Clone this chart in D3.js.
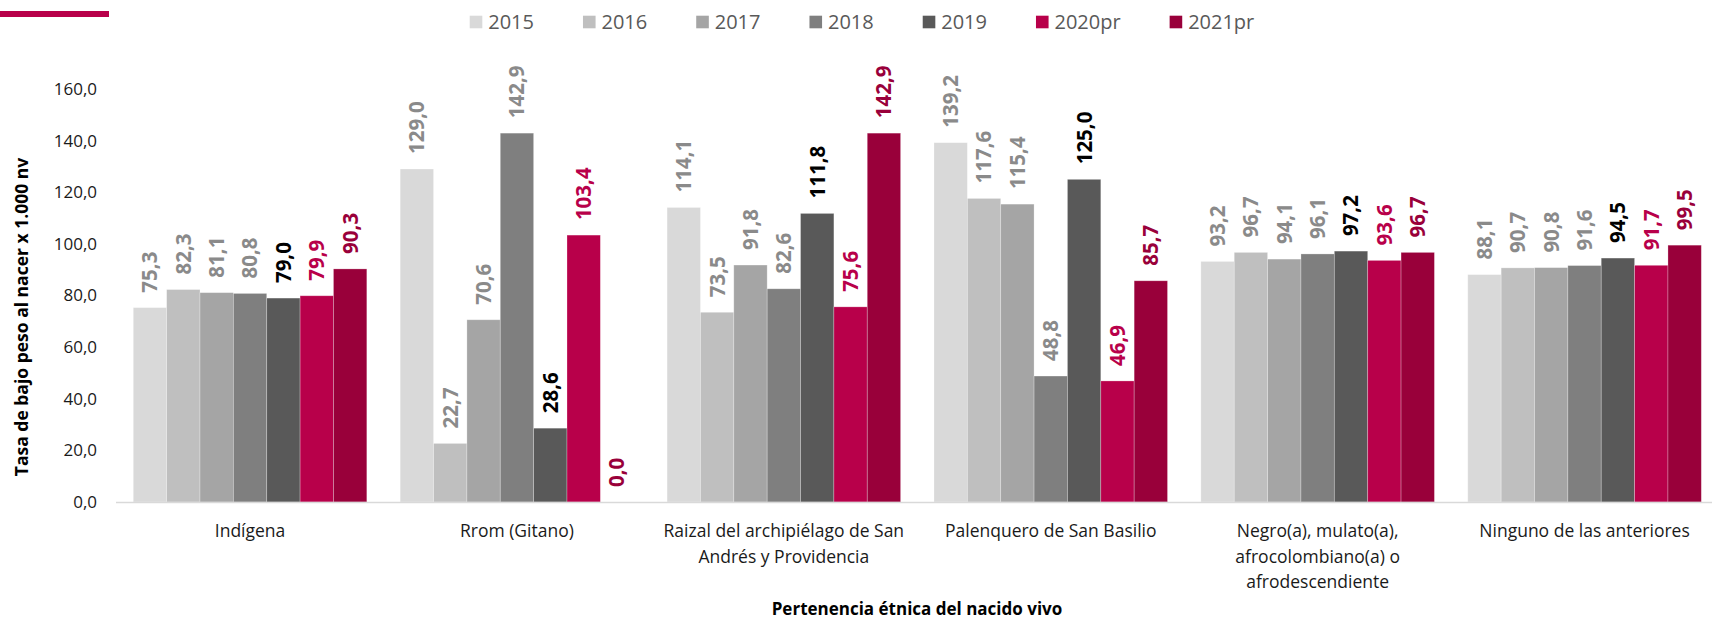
<!DOCTYPE html>
<html>
<head>
<meta charset="utf-8">
<script src="https://cdn.jsdelivr.net/npm/d3@7"></script>
<style>
  html, body { margin: 0; padding: 0; background: #fff; }
  svg { display: block; font-family: "Open Sans", "Noto Sans", sans-serif; }
</style>
</head>
<body>
<svg id="chart" width="1712" height="620"></svg>
<script>
// ---------- data ----------
const categories = [
  "Indígena",
  "Rrom (Gitano)",
  "Raizal del archipiélago de San Andrés y Providencia",
  "Palenquero de San Basilio",
  "Negro(a), mulato(a), afrocolombiano(a) o afrodescendiente",
  "Ninguno de las anteriores"
];
const categoryLines = [
  ["Indígena"],
  ["Rrom (Gitano)"],
  ["Raizal del archipiélago de San", "Andrés y Providencia"],
  ["Palenquero de San Basilio"],
  ["Negro(a), mulato(a),", "afrocolombiano(a) o", "afrodescendiente"],
  ["Ninguno de las anteriores"]
];
const seriesNames = ["2015", "2016", "2017", "2018", "2019", "2020pr", "2021pr"];
const v2015   = [75.3, 129.0, 114.1, 139.2, 93.2, 88.1];
const v2016   = [82.3, 22.7, 73.5, 117.6, 96.7, 90.7];
const v2017   = [81.1, 70.6, 91.8, 115.4, 94.1, 90.8];
const v2018   = [80.8, 142.9, 82.6, 48.8, 96.1, 91.6];
const v2019   = [79.0, 28.6, 111.8, 125.0, 97.2, 94.5];
const v2020pr = [79.9, 103.4, 75.6, 46.9, 93.6, 91.7];
const v2021pr = [90.3, 0.0, 142.9, 85.7, 96.7, 99.5];
const seriesValues = [v2015, v2016, v2017, v2018, v2019, v2020pr, v2021pr];
const yTicks = [0, 20, 40, 60, 80, 100, 120, 140, 160];
const yTitle = "Tasa de bajo peso al nacer x 1.000 nv";
const xTitle = "Pertenencia étnica del nacido vivo";

// ---------- style ----------
const barColors   = ["#d9d9d9", "#bfbfbf", "#a5a5a5", "#7f7f7f", "#595959", "#b8004a", "#99003a"];
const labelColors = ["#8a8a8a", "#8a8a8a", "#8a8a8a", "#8a8a8a", "#000000", "#b8004a", "#99003a"];

const svg = d3.select("#chart");

const x0 = d3.scaleBand().domain(categories).range([116.6, 1718]).paddingInner(0.125).paddingOuter(0.0625);
const x1 = d3.scaleBand().domain(seriesNames).range([0, x0.bandwidth()]);
const y = d3.scaleLinear().domain([0, 160]).range([502, 89]);

const fmt = v => d3.format(".1f")(v).replace(".", ",");

// top-left accent line
svg.append("rect").attr("x", 0).attr("y", 11).attr("width", 109).attr("height", 6).attr("fill", "#b8004a");

// y tick labels
svg.append("g").selectAll("text").data(yTicks).join("text")
  .attr("x", 97).attr("y", d => y(d)).attr("dy", "0.35em")
  .attr("text-anchor", "end").attr("font-size", 17).attr("fill", "#1a1a1a")
  .text(fmt);

// bars
const groups = svg.append("g").selectAll("g").data(categories).join("g")
  .attr("transform", d => `translate(${x0(d)},0)`);

seriesNames.forEach((s, si) => {
  groups.append("rect")
    .attr("x", x1(s)).attr("width", x1.bandwidth())
    .attr("y", (d, ci) => y(seriesValues[si][ci]))
    .attr("height", (d, ci) => y(0) - y(seriesValues[si][ci]))
    .attr("fill", barColors[si])
    .attr("stroke", "#ffffff").attr("stroke-opacity", 0.35).attr("stroke-width", 0.75);
});

// axis line
svg.append("line").attr("x1", 116).attr("x2", 1712).attr("y1", 502.5).attr("y2", 502.5)
  .attr("stroke", "#d9d9d9").attr("stroke-width", 1.5);

// data labels
seriesNames.forEach((s, si) => {
  groups.append("text")
    .attr("transform", (d, ci) => `translate(${x1(s) + x1.bandwidth() / 2},${y(seriesValues[si][ci]) - 15}) rotate(-90)`)
    .attr("dy", "0.36em")
    .attr("text-anchor", "start")
    .attr("font-size", 20.5).attr("font-weight", 700)
    .attr("fill", labelColors[si])
    .text((d, ci) => fmt(seriesValues[si][ci]));
});

// category labels
categories.forEach((c, ci) => {
  const t = svg.append("text")
    .attr("text-anchor", "middle").attr("font-size", 17.5).attr("fill", "#1a1a1a");
  categoryLines[ci].forEach((ln, li) => {
    t.append("tspan").attr("x", x0(c) + x0.bandwidth() / 2).attr("y", 537 + li * 25.5).text(ln);
  });
});

// axis titles
svg.append("text")
  .attr("transform", "translate(22,317) rotate(-90)")
  .attr("text-anchor", "middle").attr("dy", "0.35em")
  .attr("font-size", 17.5).attr("font-weight", 700).attr("fill", "#000")
  .text(yTitle);

svg.append("text")
  .attr("x", 917).attr("y", 615)
  .attr("text-anchor", "middle")
  .attr("font-size", 17).attr("font-weight", 700).attr("fill", "#000")
  .text(xTitle);

// legend
const legend = svg.append("g");
let lx = 0;
seriesNames.forEach((s, si) => {
  const g = legend.append("g").attr("transform", `translate(${lx},0)`);
  g.append("rect").attr("x", 0).attr("y", -6.3).attr("width", 12.6).attr("height", 12.6).attr("fill", barColors[si]);
  const t = g.append("text").attr("x", 18.5).attr("dy", "0.35em")
    .attr("font-size", 20).attr("fill", "#595959").text(s);
  const w = t.node().getComputedTextLength();
  lx += 18.5 + w + 49;
});
const totalW = lx - 49;
legend.attr("transform", `translate(${862 - totalW / 2},22)`);
</script>
</body>
</html>
